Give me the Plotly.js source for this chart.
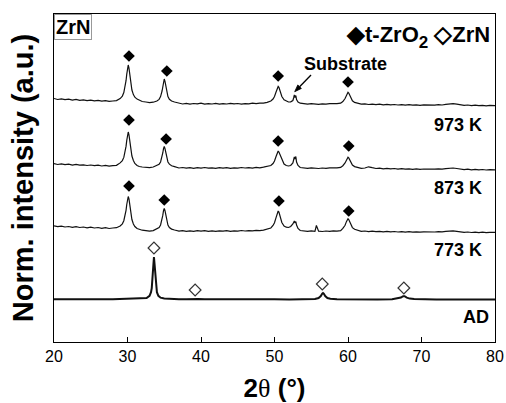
<!DOCTYPE html>
<html>
<head>
<meta charset="utf-8">
<script src="https://cdn.plot.ly/plotly-3.0.1.min.js"></script>
<style>html,body{margin:0;padding:0;background:#fff;}#chart{width:506px;height:403px;}</style>
</head>
<body>
<div id="chart"></div>
<script>
// 2theta grid shared by the oxidized samples (degrees)
const xOx = [20,20.5,21,21.5,22,22.5,23,23.5,24,24.5,25,25.5,26,26.5,27,27.5,28,28.5,
29,29.3,29.5,29.7,29.8,29.9,30.0,30.1,30.2,30.3,30.4,30.6,30.8,31.0,31.3,31.6,32.0,
32.5,33,33.5,34.0,34.3,
34.5,34.7,34.8,34.9,35.0,35.1,35.2,35.3,35.5,35.7,36.0,36.4,
37,37.5,38,38.5,39,39.5,40,40.5,41,41.5,42,42.5,43,43.5,44,44.5,45,45.5,46,46.5,47,47.5,48,48.5,49,
49.5,49.8,50.0,50.2,50.3,50.5,50.6,50.8,51.0,51.3,51.6,51.9,52.2,52.5,52.6,52.7,52.8,52.9,53.0,53.2,53.5,
54,54.5,55,55.5,55.7,56,56.5,57,57.5,58,58.5,59,
59.3,59.6,59.8,59.9,60.0,60.1,60.2,60.4,60.6,60.9,61.3,
61.8,62.3,62.8,63.3,63.8,64.3,64.8,65.3,65.8,66.3,66.8,67.3,67.8,68.3,68.8,69.3,69.8,70.3,70.8,71.3,71.8,72.3,72.8,73.3,73.8,74.3,74.8,75.3,75.8,76.3,76.8,77.3,77.8,78.3,78.8,79.3,79.8,80];

// normalized intensity with vertical offsets (a.u.)
const y973 = [243.5,242.5,243.2,242.4,242.8,241.9,242.6,241.7,242.2,241.4,241.9,241.2,241.6,240.8,241.3,240.6,241.0,241.4,
243.4,245.9,249.4,256,261.3,267.9,274.2,277,273.8,268,261,252,247.4,244.8,242.9,241.5,240.5,
240.0,239.4,239.8,241.0,242.6,
245.4,251,255.6,260.6,263,260.6,255.6,251,245.4,242.7,241,240,
238.6,238.0,238.7,237.9,238.5,238.1,238.8,237.8,238.4,238.0,238.6,237.9,238.3,238.0,238.7,238.1,238.5,237.9,238.4,238.2,238.8,238.3,238.9,238.8,239.6,
241,243,245.5,249.8,252.4,255.5,254.6,249.8,245.5,242.2,240.7,240,240.2,241.5,244,247,244.5,246.5,242.5,240,238.8,
238.2,237.8,238.4,237.9,238.3,237.7,238.2,237.8,238.4,238.0,238.3,238.8,
240.5,243.5,247.2,249,249.8,249,247.2,243.5,241.2,239.6,238.8,
237.8,238.2,237.5,237.9,237.3,237.8,237.2,237.6,237.1,237.5,237.0,237.4,236.9,237.3,236.8,237.2,236.7,237.1,236.8,237.2,236.9,237.4,237.0,237.6,238.0,238.3,237.8,237.2,236.6,237.0,236.4,236.8,236.3,236.7,236.2,236.6,236.1,236.4];

const y873 = [178.4,177.5,178.1,177.3,177.8,176.9,177.6,176.8,177.2,176.5,177.0,176.3,176.8,176.0,176.6,175.9,176.3,176.7,
179.1,181.4,184.6,190.8,195.6,201.6,207.4,210,207.2,201.5,195,186,181.5,178.5,176.5,175.5,175,
174.8,174.3,175.0,176.3,177.8,
180,185,189,193.4,195.5,193.4,189,185,180,177.8,176.2,175.4,
174.0,174.5,173.8,174.4,173.7,174.3,173.9,174.5,173.8,174.2,173.6,174.3,173.9,174.4,173.7,174.2,173.8,174.5,174.0,174.3,173.9,174.6,174.2,174.8,175.6,
176.5,178.5,181,185.3,187.9,191,190,186.5,181.5,178,176.5,176,176.5,179,182,185,183,185.5,180,176.5,174.5,
174.0,173.6,174.2,173.7,174.1,173.5,174.0,173.6,174.2,173.8,174.1,174.6,
176.3,179,182.4,184.1,184.8,184.1,182.4,179,176.9,175.4,174.6,
173.6,174.0,175.2,174.3,173.5,173.9,173.2,173.6,173.1,173.5,172.9,173.3,172.8,173.2,172.7,173.1,172.6,173.0,172.7,173.1,172.8,173.2,172.9,173.4,173.8,174.0,173.5,172.9,172.4,172.8,172.2,172.6,172.1,172.5,172.0,172.4,171.9,172.2];

const y773 = [116.2,115.3,115.9,115.0,115.5,114.7,115.3,114.5,115.0,114.2,114.8,114.0,114.5,113.7,114.3,113.5,114.0,114.3,
116,118.2,121.3,127.1,131.7,137.5,143,145.5,143,137,131,122.5,118,115.5,113.5,112.5,111.8,
111.3,110.8,111.4,112.9,114.5,
117,122.3,126.6,131.3,133.5,131.3,126.6,122.3,117,114.5,112.9,112,
110.9,111.4,110.7,111.2,110.6,111.3,110.8,111.4,110.7,111.2,110.6,111.1,110.8,111.4,110.7,111.2,110.9,111.5,111.0,111.4,111.1,111.6,111.3,111.9,112.6,
114,116.5,119.3,124.2,127.3,131,129.9,125,119.5,116,114.8,114.5,115.5,118,119.5,121,119,120.5,117,113.5,111.5,
111.0,110.6,111.1,110.7,116.5,110.8,110.5,111.0,110.6,111.1,110.8,111.3,
113.6,116.7,120.6,122.5,123.3,122.5,120.6,116.7,114.4,112.7,111.8,
110.6,111.0,110.4,110.8,110.3,110.7,110.2,110.6,110.1,110.5,110.0,110.4,109.9,110.3,109.8,110.2,109.8,110.2,109.9,110.3,110.0,110.4,110.1,110.6,111.0,111.2,110.7,110.1,109.6,110.0,109.5,109.9,109.4,109.8,109.3,109.7,109.3,109.6];

// as-deposited (AD)
const xAD = [20,21,22,23,24,25,26,27,28,29,30,31,32,
32.6,33.0,33.2,33.3,33.4,33.5,33.6,33.7,33.8,33.9,34.0,34.2,34.5,
35,36,37,38,38.8,39.2,39.6,40.5,42,44,46,48,50,52,54,
55.5,56,56.3,56.5,56.6,56.7,56.9,57.2,57.6,58.5,
60,62,64,66,66.8,67.2,67.5,67.7,68.0,68.4,69,70,72,74,76,78,80];
const yAD = [42.8,42.6,42.9,42.7,42.8,42.6,42.9,42.7,42.8,42.9,43.0,43.1,43.4,
44.0,46.2,49.8,53.9,61.6,75,85,75,61.6,53.9,49.8,46.2,44.3,
43.5,42.9,42.8,42.7,42.9,43.4,42.9,42.7,42.8,42.6,42.7,42.6,42.8,42.6,42.7,
43.1,44.0,45.9,48.4,49,48.4,45.9,44.0,43.3,42.8,
42.6,42.7,42.5,42.7,43.4,44.4,45.8,45.8,44.4,43.4,42.9,42.6,42.5,42.6,42.4,42.5,42.4];

// phase markers
const tZrO2X = [30.2,35.35,50.5,60.0, 30.2,35.25,50.5,60.1, 30.2,35.0,50.6,60.1];
const tZrO2Y = [286,271,266,260, 222,203,201,196, 156,142,141,131];
const zrnX = [33.6,39.2,56.5,67.6];
const zrnY = [94,52,58,54];

const sampleLabels = ['973 K','873 K','773 K','AD'];
const labelY = [217,154,92,25.5];

const FONT = 'Liberation Sans, Arial, Helvetica, sans-serif';

const lineTrace = (x, y, w) => ({x: x, y: y, type: 'scatter', mode: 'lines',
  line: {color: '#111', width: w}, hoverinfo: 'skip', showlegend: false});

const data = [
  lineTrace(xOx, y973, 1.2),
  lineTrace(xOx, y873, 1.2),
  lineTrace(xOx, y773, 1.2),
  lineTrace(xAD, yAD, 2),
  {x: tZrO2X, y: tZrO2Y, type: 'scatter', mode: 'markers', showlegend: false,
   marker: {symbol: 'diamond', size: 9, color: '#000', line: {width: 0}}},
  {x: zrnX, y: zrnY, type: 'scatter', mode: 'markers', showlegend: false,
   marker: {symbol: 'diamond-open', size: 9, color: '#333', line: {width: 1.2, color: '#333'}}}
];

const annotations = [
  {xref: 'paper', yref: 'paper', x: 0, y: 1, xanchor: 'left', yanchor: 'top',
   text: '<b>ZrN</b>', showarrow: false, font: {family: FONT, size: 20, color: '#000'},
   bordercolor: '#999', borderwidth: 1, borderpad: 1, bgcolor: '#fff'},
  {xref: 'paper', yref: 'paper', x: 1, y: 1, xanchor: 'right', yanchor: 'top', xshift: -3, yshift: -5,
   text: '<b><span style="font-size:23px">◆</span>t-ZrO<span style="font-size:17px;baseline-shift:-6px">2</span> <span style="font-size:23px">◇</span>ZrN</b>',
   showarrow: false, font: {family: FONT, size: 22, color: '#000'}},
  {x: 59.66, y: 278.5, xref: 'x', yref: 'y', text: '<b>Substrate</b>', showarrow: false,
   font: {family: FONT, size: 18, color: '#000'}}
];
sampleLabels.forEach((t, i) => {
  annotations.push({x: i === 3 ? 79.4 : 78.45, y: labelY[i], xref: 'x', yref: 'y', xanchor: 'right', yanchor: 'middle',
    text: '<b>' + t + '</b>', showarrow: false, font: {family: FONT, size: 18, color: '#000'}});
});

// arrow pointing at the substrate reflection (tail -> head)
const shapes = [
  {type: 'path', xref: 'x', yref: 'y', path: 'M54.97,267 L53.415,255.3', line: {color: '#000', width: 1.3}},
  {type: 'path', xref: 'x', yref: 'y', path: 'M52.748,250.3 L53.66,253.55 L53.17,257.05 Z',
   fillcolor: '#000', line: {color: '#000', width: 0.8}}
];

const layout = {
  width: 506, height: 403,
  margin: {l: 54, r: 11, t: 14, b: 61},
  paper_bgcolor: '#fff', plot_bgcolor: '#fff',
  font: {family: FONT, color: '#000'},
  showlegend: false,
  xaxis: {range: [20, 80], tick0: 20, dtick: 10, ticks: 'inside', ticklen: 5, tickwidth: 1, tickcolor: '#000',
    showline: true, linecolor: '#000', linewidth: 1, mirror: true, showgrid: false, zeroline: false,
    tickfont: {family: FONT, size: 16, color: '#000'},
    title: {text: '<b>2</b><span style="font-family:Liberation Serif,serif">θ</span><b> (°)</b>',
      font: {family: FONT, size: 26, color: '#000'}, standoff: 14}},
  yaxis: {range: [0, 328], showticklabels: false, ticks: '', showline: true, linecolor: '#000', linewidth: 1,
    mirror: true, showgrid: false, zeroline: false,
    title: {text: '<b>Norm. intensity (a.u.)</b>', font: {family: FONT, size: 29, color: '#000'}, standoff: 10}},
  annotations: annotations,
  shapes: shapes
};

Plotly.newPlot('chart', data, layout, {staticPlot: true, displayModeBar: false});
</script>
</body>
</html>
